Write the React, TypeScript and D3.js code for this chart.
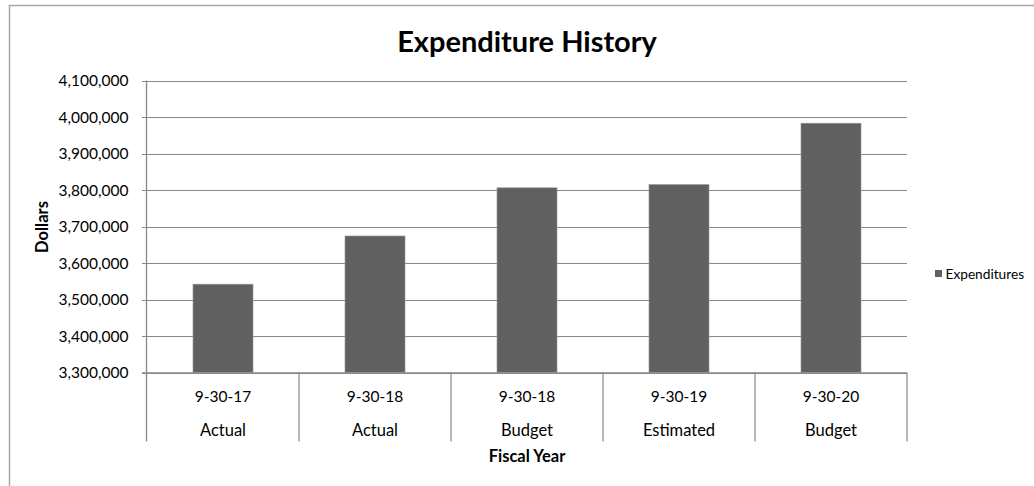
import React from "react";
import * as d3 from "d3";

const dates = ["9-30-17", "9-30-18", "9-30-18", "9-30-19", "9-30-20"];
const kinds = ["Actual", "Actual", "Budget", "Estimated", "Budget"];
const expenditures = [3542000, 3674000, 3806000, 3815000, 3983000];
const yTicks = [3300000, 3400000, 3500000, 3600000, 3700000, 3800000, 3900000, 4000000, 4100000];
const seriesName = "Expenditures";
const title = "Expenditure History";
const yTitle = "Dollars";
const xTitle = "Fiscal Year";

const W = 1034;
const H = 486;
const M = { left: 147, right: 907, top: 80.5, bottom: 372.5 };
const FONT = "Lato, 'Noto Sans', sans-serif";

export default function App() {
  const idx = dates.map((_, i) => i);
  const x = d3.scaleBand<number>().domain(idx).range([M.left, M.right]).paddingInner(0.605).paddingOuter(0.3025);
  const xb = d3.scaleBand<number>().domain(idx).range([M.left, M.right]);
  const y = d3.scaleLinear().domain([3300000, 4100000]).range([M.bottom, M.top]);
  const fmt = d3.format(",");
  const gridColor = "#888888";
  return (
    <svg width={W} height={H} style={{ position: "absolute", left: 0, top: 0, display: "block" }}>
      <rect x={0} y={0} width={W} height={H} fill="#fff" />
      <rect x={9.5} y={5.5} width={W + 10} height={H + 10} fill="none" stroke="#a6a6a6" strokeWidth={1.5} />
      <text x={527} y={52} textAnchor="middle" fontFamily={FONT} fontWeight="bold" fontSize={29} fill="#000">
        {title}
      </text>
      {yTicks.map((t) => (
        <g key={t}>
          <line x1={M.left} x2={M.right} y1={Math.round(y(t)) + 0.5} y2={Math.round(y(t)) + 0.5} stroke={gridColor} strokeWidth={1} />
          <line x1={M.left - 5} x2={M.left} y1={Math.round(y(t)) + 0.5} y2={Math.round(y(t)) + 0.5} stroke={gridColor} strokeWidth={1} />
          <text x={128.5} y={y(t) + 5.5} textAnchor="end" fontFamily={FONT} fontSize={15.5} fill="#000">
            {fmt(t)}
          </text>
        </g>
      ))}
      {idx.map((i) => (
        <rect
          key={i}
          x={x(i)}
          y={y(expenditures[i])}
          width={x.bandwidth()}
          height={M.bottom - y(expenditures[i])}
          fill="#606060"
          stroke="#9a9a9a"
          strokeWidth={0.6}
        />
      ))}
      <line x1={M.left - 0.5} x2={M.left - 0.5} y1={M.top} y2={441.5} stroke={gridColor} strokeWidth={1.3} />
      <line x1={M.left - 5} x2={M.right} y1={M.bottom + 0.5} y2={M.bottom + 0.5} stroke={gridColor} strokeWidth={1.3} />
      {idx.map((i) => (
        <line key={"s" + i} x1={xb(i)! + xb.bandwidth()} x2={xb(i)! + xb.bandwidth()} y1={M.bottom} y2={441.5} stroke={gridColor} strokeWidth={1.2} />
      ))}
      {idx.map((i) => (
        <g key={"l" + i}>
          <text x={xb(i)! + xb.bandwidth() / 2} y={402} textAnchor="middle" fontFamily={FONT} fontSize={15.5} fill="#000">
            {dates[i]}
          </text>
          <text x={xb(i)! + xb.bandwidth() / 2} y={436} textAnchor="middle" fontFamily={FONT} fontSize={16.5} fill="#000">
            {kinds[i]}
          </text>
        </g>
      ))}
      <text x={(M.left + M.right) / 2} y={462} textAnchor="middle" fontFamily={FONT} fontWeight="bold" fontSize={16.5} fill="#000">
        {xTitle}
      </text>
      <text transform={`translate(48,227) rotate(-90)`} textAnchor="middle" fontFamily={FONT} fontWeight="bold" fontSize={16.5} fill="#000">
        {yTitle}
      </text>
      <rect x={935} y={270} width={7} height={7} fill="#606060" />
      <text x={945.5} y={278.5} fontFamily={FONT} fontSize={13.7} fill="#000">
        {seriesName}
      </text>
    </svg>
  );
}
